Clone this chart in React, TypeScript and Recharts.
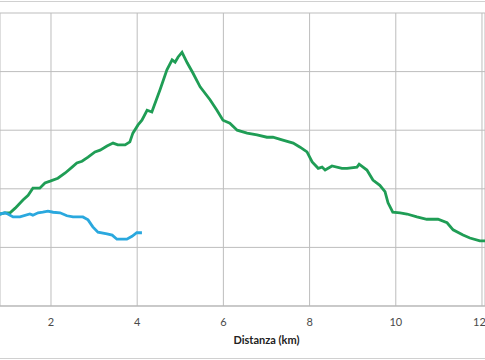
import React from 'react';
import { LineChart, Line, XAxis, YAxis, CartesianGrid, Label } from 'recharts';

// distance (km) / elevation pairs
const greenKm = [
    0.0, 0.4, 0.82, 0.93, 1.05, 1.17, 1.35, 1.47, 1.58, 1.74, 1.86, 1.98, 2.16, 2.33, 2.49, 2.6, 2.72, 2.86,
    3.02, 3.14, 3.3, 3.44, 3.55, 3.72, 3.83, 3.9, 4.02, 4.11, 4.23, 4.34, 4.53, 4.69, 4.81, 4.88, 4.95, 5.04,
    5.16, 5.29, 5.46, 5.69, 5.85, 5.99, 6.15, 6.32, 6.55, 6.78, 7.01, 7.15, 7.38, 7.62, 7.78, 7.94, 8.06, 8.2,
    8.29, 8.36, 8.52, 8.75, 8.87, 9.1, 9.15, 9.33, 9.47, 9.63, 9.75, 9.82, 9.93, 10.1, 10.26, 10.49, 10.72,
    10.98, 11.19, 11.33, 11.56, 11.72, 11.95, 12.18,
];
const greenElev = [
    154, 157, 157, 159, 159, 167, 181, 189, 201, 201, 210, 213, 218, 227, 237, 244, 247, 254,
    263, 266, 273, 278, 275, 275, 280, 295, 309, 317, 334, 331, 369, 403, 420, 416, 425, 433,
    415, 398, 374, 352, 334, 317, 312, 300, 295, 292, 288, 288, 283, 278, 271, 263, 246, 235,
    237, 232, 239, 235, 235, 237, 242, 232, 215, 206, 195, 176, 160, 159, 157, 152, 148,
    148, 142, 130, 121, 116, 111, 111,
];

const blueKm = [
    0.0, 0.4, 0.82, 0.93, 1.0, 1.12, 1.28, 1.51, 1.58, 1.7, 1.81, 1.93, 2.05, 2.21, 2.37, 2.51, 2.74, 2.86,
    2.97, 3.09, 3.3, 3.42, 3.53, 3.76, 3.88, 3.99, 4.11,
];
const blueElev = [
    154, 155, 157, 159, 157, 152, 152, 157, 155, 159, 160, 162, 160, 159, 154, 152, 152, 147,
    135, 126, 123, 121, 114, 114, 119, 125, 125,
];

const xTicks = [2, 4, 6, 8, 10, 12];
const yTicks = [0, 100, 200, 300, 400, 500];

const greenData = greenKm.map((km, i) => ({ km, elev: greenElev[i] }));
const blueData = blueKm.map((km, i) => ({ km, elev: blueElev[i] }));

const font = 'Lato, "Open Sans", sans-serif';

export default function App() {
    return (
        <div
            style={{
                position: 'absolute',
                left: 0,
                top: 0,
                width: 485,
                height: 360,
                overflow: 'hidden',
                background: '#fff',
                fontFamily: font,
            }}
        >
            <div style={{ position: 'absolute', left: 0, top: 1, width: 485, height: 1, background: '#d0d0d0' }} />
            <div style={{ position: 'absolute', left: 0, top: 358, width: 485, height: 1, background: '#d0d0d0' }} />
            <LineChart width={485} height={360} margin={{ top: 13, right: 0, bottom: 0, left: 0 }}>
                <CartesianGrid stroke="#bdbdbd" strokeWidth={1} />
                <XAxis
                    dataKey="km"
                    type="number"
                    domain={[0.817, 12.07]}
                    allowDataOverflow
                    ticks={xTicks}
                    height={54}
                    tickLine={false}
                    tickMargin={6}
                    stroke="#b5b5b5"
                    tick={{ fill: '#4a4a4a', fontSize: 11, fontFamily: font }}
                >
                    <Label
                        value="Distanza (km)"
                        position="insideBottom"
                        offset={16}
                        dx={24}
                        fill="#222"
                        fontSize={11}
                        fontWeight="bold"
                        fontFamily={font}
                    />
                </XAxis>
                <YAxis type="number" domain={[0, 500]} ticks={yTicks} hide />
                <Line
                    data={greenData}
                    dataKey="elev"
                    stroke="#1f9d55"
                    strokeWidth={2.8}
                    dot={false}
                    isAnimationActive={false}
                />
                <Line
                    data={blueData}
                    dataKey="elev"
                    stroke="#2aa8de"
                    strokeWidth={2.8}
                    dot={false}
                    isAnimationActive={false}
                />
            </LineChart>
        </div>
    );
}
